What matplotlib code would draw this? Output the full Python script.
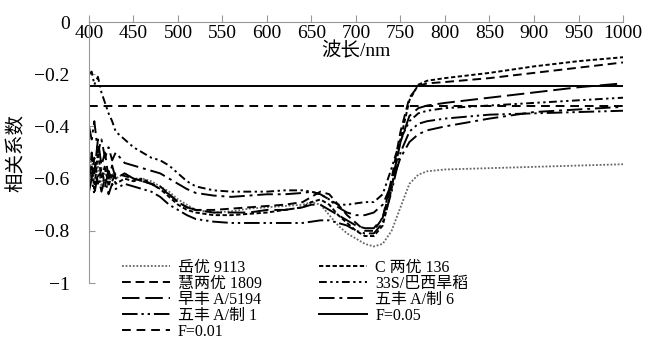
import numpy as np
import matplotlib
matplotlib.use("Agg")
from matplotlib import pyplot as plt
from matplotlib.ticker import FuncFormatter

plt.rcParams['font.family'] = ['Liberation Serif', 'Noto Sans CJK SC']
plt.rcParams['axes.unicode_minus'] = True

# wavelength (nm) sample points
wl = [400, 403, 406, 410, 414, 418, 422, 426, 430, 440, 450, 460, 470, 480, 490,
      500, 510, 520, 540, 560, 580, 600, 620, 640, 650, 660, 670, 680, 690, 700,
      710, 720, 730, 740, 750, 760, 770, 780, 800, 850, 900, 950, 1000]

# correlation coefficients per cultivar
yueyou_9113 = [-0.58, -0.52, -0.62, -0.55, -0.63, -0.57, -0.62, -0.58, -0.60, -0.58, -0.60, -0.60, -0.61, -0.63, -0.65,
               -0.68, -0.70, -0.72, -0.73, -0.725, -0.715, -0.71, -0.705, -0.70, -0.69, -0.70, -0.74, -0.78, -0.81, -0.83,
               -0.85, -0.86, -0.85, -0.80, -0.71, -0.62, -0.585, -0.572, -0.565, -0.56, -0.555, -0.55, -0.545]
c_liangyou_136 = [-0.60, -0.55, -0.64, -0.50, -0.60, -0.55, -0.63, -0.58, -0.62, -0.60, -0.61, -0.60, -0.62, -0.64, -0.67,
                  -0.70, -0.72, -0.73, -0.74, -0.74, -0.735, -0.73, -0.72, -0.71, -0.69, -0.68, -0.70, -0.74, -0.77, -0.80,
                  -0.82, -0.82, -0.78, -0.64, -0.45, -0.30, -0.24, -0.225, -0.215, -0.195, -0.17, -0.15, -0.135]
huiliangyou_1809 = [-0.55, -0.60, -0.52, -0.62, -0.56, -0.63, -0.57, -0.61, -0.58, -0.59, -0.60, -0.61, -0.62, -0.63, -0.66,
                    -0.69, -0.71, -0.72, -0.72, -0.715, -0.71, -0.705, -0.70, -0.69, -0.67, -0.65, -0.66, -0.70, -0.74, -0.77,
                    -0.80, -0.80, -0.75, -0.60, -0.42, -0.29, -0.245, -0.235, -0.23, -0.215, -0.195, -0.175, -0.155]
s33_brazil = [-0.20, -0.19, -0.24, -0.21, -0.27, -0.31, -0.35, -0.38, -0.42, -0.45, -0.48, -0.50, -0.52, -0.53, -0.55,
              -0.58, -0.61, -0.63, -0.645, -0.65, -0.65, -0.65, -0.645, -0.645, -0.65, -0.66, -0.68, -0.70, -0.70, -0.695,
              -0.69, -0.69, -0.66, -0.56, -0.45, -0.38, -0.35, -0.34, -0.33, -0.32, -0.31, -0.30, -0.29]
zaofeng_5194 = [-0.62, -0.50, -0.58, -0.45, -0.55, -0.50, -0.60, -0.55, -0.60, -0.58, -0.60, -0.61, -0.62, -0.64, -0.66,
                -0.69, -0.71, -0.72, -0.73, -0.73, -0.73, -0.72, -0.72, -0.71, -0.70, -0.70, -0.72, -0.74, -0.76, -0.78,
                -0.79, -0.79, -0.75, -0.62, -0.46, -0.36, -0.33, -0.32, -0.31, -0.29, -0.27, -0.25, -0.235]
wufeng_6 = [-0.40, -0.45, -0.38, -0.50, -0.45, -0.52, -0.48, -0.53, -0.50, -0.54, -0.55, -0.56, -0.57, -0.58, -0.60,
            -0.62, -0.64, -0.655, -0.665, -0.67, -0.665, -0.66, -0.66, -0.655, -0.65, -0.66, -0.68, -0.71, -0.73, -0.74,
            -0.74, -0.73, -0.70, -0.62, -0.52, -0.46, -0.43, -0.415, -0.40, -0.37, -0.345, -0.335, -0.325]
wufeng_1 = [-0.65, -0.60, -0.66, -0.58, -0.65, -0.60, -0.66, -0.62, -0.64, -0.62, -0.63, -0.64, -0.65, -0.67, -0.70,
            -0.72, -0.74, -0.755, -0.765, -0.77, -0.77, -0.77, -0.77, -0.77, -0.765, -0.76, -0.76, -0.77, -0.78, -0.80,
            -0.81, -0.81, -0.77, -0.65, -0.50, -0.42, -0.39, -0.38, -0.37, -0.355, -0.35, -0.345, -0.34]

# critical values of r
f_001 = -0.32
f_005 = -0.245

x_ticks = list(range(400, 1001, 50))
y_ticks = [0, -0.2, -0.4, -0.6, -0.8, -1]

fig = plt.figure(figsize=(6.48, 3.49), dpi=100)
ax = fig.add_axes([89 / 648, 1 - 283 / 349, (623 - 89) / 648, (283 - 22) / 349])

ax.plot(wl, yueyou_9113, color='#666666', lw=1.3, linestyle=(0, (1, 1)), label='岳优 9113')
ax.plot(wl, huiliangyou_1809, color='black', lw=1.4, linestyle=(0, (4.5, 2.5)), label='慧两优 1809')
ax.plot(wl, zaofeng_5194, color='black', lw=1.4, linestyle=(0, (9, 3)), label='早丰 A/5194')
ax.plot(wl, wufeng_1, color='black', lw=1.4, linestyle=(0, (8, 2, 1.2, 2, 1.2, 2)), label='五丰 A/制 1')
ax.axhline(f_001, color='black', lw=1.4, linestyle=(0, (4.5, 3)), label='F=0.01')
ax.plot(wl, c_liangyou_136, color='black', lw=1.4, linestyle=(0, (2.2, 1.3)), label='C 两优 136')
ax.plot(wl, s33_brazil, color='black', lw=1.4, linestyle=(0, (4, 1.8, 1.2, 1.8, 1.2, 1.8)), label='33S/巴西旱稻')
ax.plot(wl, wufeng_6, color='black', lw=1.4, linestyle=(0, (8, 2.5, 1.5, 2.5)), label='五丰 A/制 6')
ax.axhline(f_005, color='black', lw=1.4, label='F=0.05')

ax.set_xlim(400, 1000)
ax.set_ylim(-1, 0)

# x axis drawn along r = 0, labels hanging inside the plot
ax.spines['bottom'].set_position(('data', 0))
ax.spines['top'].set_visible(False)
ax.spines['right'].set_visible(False)
for s in ('bottom', 'left'):
    ax.spines[s].set_color('#999999')
ax.set_xticks(x_ticks)
ax.set_yticks(y_ticks)
ax.yaxis.set_major_formatter(FuncFormatter(lambda v, p: f"{v:g}".replace('-', '\u2212')))
ax.tick_params(axis='x', direction='in', length=5, color='#999999', labelsize=14, pad=2)
ax.tick_params(axis='y', direction='in', length=4, color='#999999', labelsize=14, pad=14)
ax.set_xlabel('波长/nm', fontsize=14, labelpad=0)
ax.set_ylabel('相关系数', fontsize=14, labelpad=6)

handles, labels = ax.get_legend_handles_labels()
ax.legend(handles, labels, ncol=2, frameon=False, fontsize=11.5,
          loc='upper left', bbox_to_anchor=(122 / 648, 1 - 260 / 349),
          bbox_transform=fig.transFigure, borderpad=0, borderaxespad=0,
          labelspacing=0.0, handlelength=3.0, handletextpad=0.5, columnspacing=3.6)

fig.savefig('out.png', dpi=100)
